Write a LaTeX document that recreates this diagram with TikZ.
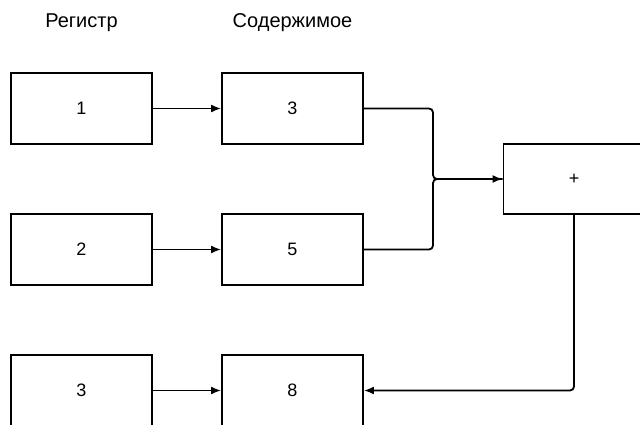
\documentclass[tikz,border=0pt]{standalone}
\usepackage{fontspec}
\setmainfont{Liberation Sans}
\usetikzlibrary{positioning,arrows.meta,calc}

\tikzset{
  regbox/.style={draw,line width=1.8pt,minimum width=141pt,minimum height=71pt,font=\fontsize{18}{20}\selectfont},
  wire/.style={line width=1.8pt,rounded corners=4pt},
  arr/.style={-{Latex[length=10pt,width=8pt]}}
}

\begin{document}
\begin{tikzpicture}[x=1pt,y=1pt,node distance=211pt and 141pt,on grid]
		\useasboundingbox (0,0) rectangle (640,424);
		\node[regbox] (r_1) at (81.5,315.5) {1};
		\node[regbox] (c_1) [right=211pt of r_1] {3};
		\node[regbox] (r_2) [below=141pt of r_1] {2};
		\node[regbox] (c_2) [right=211pt of r_2] {5};
		\node[regbox] (r_3) [below=141pt of r_2] {3};
		\node[regbox] (c_3) [right=211pt of r_3] {8};
		
		\node[font=\fontsize{20}{22}\selectfont] (reg) [above=86pt of r_1] {Регистр};
		\node[font=\fontsize{20}{22}\selectfont] (cont) [above=86pt of c_1] {Содержимое};
		
		\node[regbox,minimum height=70pt] (plus) at (574,245) {+};
		\coordinate (j) at (433,245);
		
		\draw[wire,arr] (r_1) -- (c_1);
		\draw[wire,arr] (r_2) -- (c_2);
		\draw[wire,arr] (r_3) -- (c_3);
		\draw[wire] (c_1.east) -| (j) -- (plus.west);
		\draw[wire,arr] (c_2.east) -| (j) -- (plus.west);
		\draw[wire,arr] (plus.south) |- (c_3.east);
\end{tikzpicture}
\end{document}
